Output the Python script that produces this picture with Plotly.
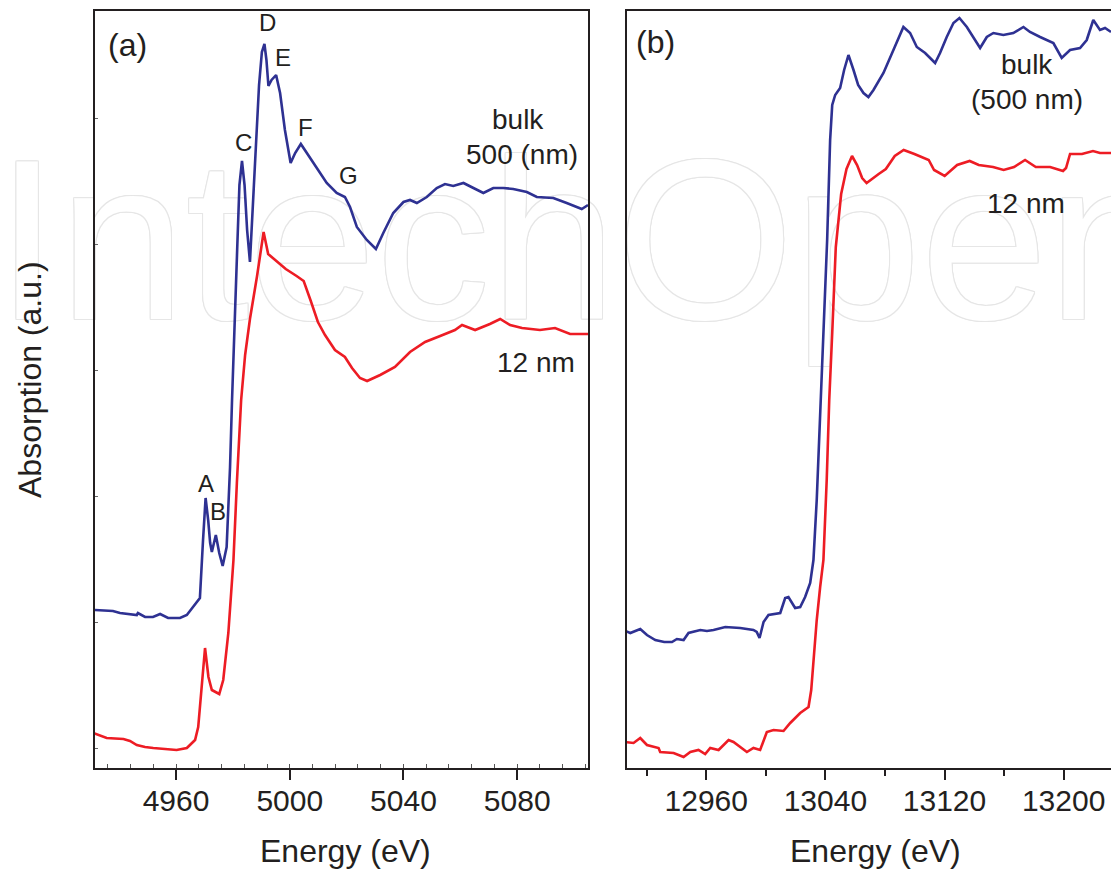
import plotly.graph_objects as go

# ---------------- data ----------------
# Panel (a): Ti K-edge region
energy_a_bulk = [4931.5, 4937.8, 4940.3, 4946.2, 4946.6, 4949.1, 4951.9, 4954.4, 4957.2, 4961.4,
                 4963.8, 4966.0, 4967.3, 4968.4, 4969.5, 4970.4, 4971.3, 4972.0, 4972.6, 4974.0,
                 4975.2, 4976.4, 4977.8, 4979.0, 4979.7, 4980.4, 4981.5, 4982.3, 4983.2, 4984.1,
                 4985.0, 4986.0, 4987.1, 4988.1, 4989.2, 4990.2, 4991.1, 4991.8, 4992.5, 4993.6,
                 4995.2, 4996.6, 4998.3, 5000.3, 5001.9, 5003.9, 5006.0, 5009.5, 5013.0, 5016.5,
                 5019.4, 5021.2, 5023.6, 5027.1, 5030.3, 5032.9, 5036.4, 5040.0, 5042.3, 5044.7,
                 5048.2, 5051.7, 5054.6, 5057.5, 5061.1, 5064.6, 5068.1, 5071.6, 5075.1, 5078.6,
                 5083.4, 5086.9, 5092.7, 5097.4, 5102.7, 5104.9]
abs_a_bulk = [1.58, 1.57, 1.55, 1.53, 1.55, 1.51, 1.51, 1.54, 1.50, 1.50,
              1.53, 1.61, 1.66, 1.70, 2.28, 2.70, 2.48, 2.25, 2.16, 2.33,
              2.15, 2.02, 2.21, 3.01, 3.68, 4.35, 5.18, 5.83, 6.07, 5.83,
              5.38, 5.06, 5.68, 6.28, 6.83, 7.16, 7.24, 7.08, 6.82, 6.88,
              6.93, 6.75, 6.38, 6.05, 6.15, 6.24, 6.15, 6.01, 5.85, 5.75,
              5.71, 5.61, 5.41, 5.28, 5.19, 5.35, 5.55, 5.66, 5.68, 5.65,
              5.71, 5.80, 5.84, 5.82, 5.85, 5.80, 5.75, 5.80, 5.80, 5.79,
              5.76, 5.71, 5.70, 5.65, 5.59, 5.63]

energy_a_12nm = [4930.8, 4935.6, 4941.5, 4943.8, 4946.2, 4949.1, 4952.0, 4956.1, 4960.2, 4963.8,
                 4966.7, 4967.8, 4969.0, 4970.2, 4971.4, 4972.6, 4975.2, 4976.6, 4978.4, 4980.2,
                 4981.4, 4982.9, 4984.3, 4986.0, 4988.5, 4990.8, 4992.4, 4994.8, 4998.6, 5002.4,
                 5004.9, 5007.4, 5009.9, 5012.4, 5015.9, 5019.4, 5021.9, 5024.7, 5027.2, 5031.8,
                 5037.0, 5042.3, 5047.6, 5052.9, 5058.1, 5060.6, 5065.2, 5070.4, 5074.0, 5077.5,
                 5081.7, 5088.0, 5093.3, 5098.6, 5104.9]
abs_a_12nm = [0.35, 0.30, 0.29, 0.27, 0.23, 0.21, 0.20, 0.19, 0.18, 0.20,
              0.28, 0.41, 0.85, 1.20, 0.91, 0.78, 0.74, 0.88, 1.35, 2.08,
              2.85, 3.68, 4.13, 4.49, 4.92, 5.36, 5.14, 5.08, 4.99, 4.92,
              4.87, 4.67, 4.46, 4.33, 4.18, 4.11, 4.00, 3.90, 3.87, 3.93,
              4.01, 4.16, 4.26, 4.32, 4.38, 4.43, 4.38, 4.44, 4.49, 4.43,
              4.40, 4.38, 4.40, 4.34, 4.34]

# Panel (b): Pb L3-edge region
energy_b_bulk = [12905.6, 12909.0, 12915.7, 12920.2, 12925.8, 12931.8, 12937.0, 12940.3, 12944.8, 12948.1,
                 12956.0, 12960.5, 12964.9, 12972.8, 12982.8, 12991.7, 12993.9, 12995.8, 12998.5, 13001.8,
                 13009.7, 13013.0, 13015.2, 13019.7, 13023.1, 13026.4, 13029.8, 13032.0, 13034.2, 13036.5,
                 13038.9, 13041.2, 13043.2, 13044.6, 13046.6, 13049.9, 13052.6, 13055.5, 13058.9, 13062.0,
                 13065.6, 13068.9, 13072.3, 13079.0, 13085.7, 13092.4, 13096.9, 13101.4, 13107.0, 13113.7,
                 13117.0, 13121.5, 13126.0, 13130.0, 13135.0, 13139.4, 13143.9, 13148.4, 13152.8, 13159.5,
                 13166.2, 13173.0, 13177.4, 13184.2, 13193.1, 13198.7, 13204.3, 13211.0, 13215.5, 13219.9,
                 13224.4, 13227.8, 13231.8]
abs_b_bulk = [1.37, 1.35, 1.39, 1.33, 1.28, 1.26, 1.26, 1.29, 1.28, 1.35,
              1.38, 1.37, 1.38, 1.41, 1.40, 1.38, 1.36, 1.30, 1.46, 1.53,
              1.55, 1.70, 1.71, 1.60, 1.61, 1.71, 1.85, 2.08, 2.68, 3.48,
              4.35, 5.28, 6.28, 6.63, 6.73, 6.80, 6.98, 7.13, 6.98, 6.83,
              6.75, 6.71, 6.78, 6.95, 7.18, 7.41, 7.35, 7.21, 7.15, 7.05,
              7.15, 7.31, 7.45, 7.50, 7.41, 7.31, 7.20, 7.31, 7.35, 7.33,
              7.35, 7.41, 7.36, 7.31, 7.25, 7.10, 7.18, 7.20, 7.28, 7.48,
              7.38, 7.40, 7.36]

energy_b_12nm = [12905.6, 12911.2, 12915.7, 12920.2, 12928.0, 12929.1, 12938.1, 12944.8, 12949.3, 12954.8,
                 12959.3, 12962.7, 12968.3, 12975.0, 12978.3, 12987.3, 12991.7, 12996.2, 13000.7, 13005.2,
                 13011.9, 13016.4, 13023.1, 13028.7, 13030.5, 13032.0, 13034.2, 13036.5, 13038.7, 13040.9,
                 13042.6, 13044.6, 13047.0, 13050.6, 13054.2, 13057.9, 13061.3, 13064.7, 13067.7, 13075.8,
                 13080.6, 13086.6, 13092.6, 13099.8, 13109.4, 13113.0, 13120.1, 13128.5, 13136.9, 13143.0,
                 13152.6, 13159.7, 13166.7, 13174.1, 13181.3, 13190.9, 13199.6, 13201.6, 13204.3, 13212.3,
                 13219.7, 13224.4, 13231.8]
abs_b_12nm = [0.26, 0.25, 0.30, 0.23, 0.20, 0.16, 0.15, 0.11, 0.16, 0.18,
              0.14, 0.20, 0.18, 0.28, 0.26, 0.16, 0.20, 0.18, 0.36, 0.38,
              0.37, 0.45, 0.55, 0.61, 0.78, 1.08, 1.48, 1.81, 2.08, 2.88,
              3.68, 4.35, 5.21, 5.74, 5.99, 6.12, 6.03, 5.90, 5.85, 5.94,
              5.99, 6.12, 6.18, 6.14, 6.08, 5.98, 5.92, 6.03, 6.07, 6.03,
              6.01, 5.98, 6.01, 6.08, 6.01, 6.01, 5.97, 6.00, 6.14, 6.14,
              6.17, 6.15, 6.15]

peak_labels = ["A", "B", "C", "D", "E", "F", "G"]
peak_label_energy = [4970.6, 4974.8, 4983.9, 4992.0, 4997.6, 5005.7, 5020.5]
peak_label_abs = [2.85, 2.57, 6.25, 7.45, 7.10, 6.40, 5.92]

tickvals_a = [4960, 5000, 5040, 5080]
tickvals_b = [12960, 13040, 13120, 13200]

# ---------------- style ----------------
BLUE = "#2e3192"
RED = "#ed1c24"
INK = "#231f20"
FONT = "Liberation Sans, Arial, sans-serif"
W, H = 1111, 871

fig = go.Figure()

# faint publisher watermark (bottom layer, full-figure helper axes)
fig.add_trace(go.Scatter(
    x=[585], y=[262], mode="text", text=["IntechOpen"],
    textposition="middle center",
    textfont=dict(family=FONT, size=228, color="white",
                  shadow="1px 0 0 #e6e6e6, -1px 0 0 #e6e6e6, 0 1px 0 #e6e6e6, 0 -1px 0 #e6e6e6, "
                         "1px 1px 0 #e6e6e6, -1px -1px 0 #e6e6e6, 1px -1px 0 #e6e6e6, -1px 1px 0 #e6e6e6"),
    xaxis="x", yaxis="y", hoverinfo="skip", showlegend=False))

fig.add_trace(go.Scatter(x=energy_a_bulk, y=abs_a_bulk, mode="lines", name="bulk (500 nm)",
                         line=dict(color=BLUE, width=2.6), xaxis="x2", yaxis="y2", showlegend=False))
fig.add_trace(go.Scatter(x=energy_a_12nm, y=abs_a_12nm, mode="lines", name="12 nm",
                         line=dict(color=RED, width=2.6), xaxis="x2", yaxis="y2", showlegend=False))
fig.add_trace(go.Scatter(x=energy_b_bulk, y=abs_b_bulk, mode="lines", name="bulk (500 nm)",
                         line=dict(color=BLUE, width=2.6), xaxis="x3", yaxis="y3", showlegend=False))
fig.add_trace(go.Scatter(x=energy_b_12nm, y=abs_b_12nm, mode="lines", name="12 nm",
                         line=dict(color=RED, width=2.6), xaxis="x3", yaxis="y3", showlegend=False))

ydom = [1 - 768 / H, 1 - 11 / H]
tickfont = dict(family=FONT, size=30, color=INK)

fig.update_layout(
    width=W, height=H, autosize=False,
    margin=dict(l=0, r=0, t=0, b=0, pad=0, autoexpand=False),
    paper_bgcolor="white", plot_bgcolor="rgba(0,0,0,0)",
    hovermode=False, showlegend=False,
    xaxis=dict(domain=[0, 1], range=[0, W], visible=False, fixedrange=True),
    yaxis=dict(domain=[0, 1], range=[H, 0], visible=False, fixedrange=True),
    xaxis2=dict(domain=[95 / W, 588 / W], range=[4931.5, 5104.9], anchor="y2",
                showline=True, linecolor=INK, linewidth=1.5, mirror=True,
                ticks="outside", ticklen=10, tickwidth=1.5, tickcolor=INK,
                tickvals=tickvals_a, tickformat="d", tickfont=tickfont, ticklabelstandoff=-5,
                showgrid=False, zeroline=False,
                minor=dict(dtick=8, tick0=4960, ticks="inside", ticklen=4, tickcolor="#555", tickwidth=1)),
    yaxis2=dict(domain=ydom, range=[0, 7.57], anchor="x2",
                showline=True, linecolor=INK, linewidth=1.5, mirror=True,
                ticks="inside", ticklen=3, tickcolor="#666", tick0=0.2, dtick=1.26,
                showticklabels=False, showgrid=False, zeroline=False),
    xaxis3=dict(domain=[627 / W, 1.0], range=[12906.8, 13231.8], anchor="y3",
                showline=True, linecolor=INK, linewidth=1.5, mirror=True,
                ticks="outside", ticklen=10, tickwidth=1.5, tickcolor=INK,
                tickvals=tickvals_b, tickformat="d", tickfont=tickfont, ticklabelstandoff=-5,
                showgrid=False, zeroline=False,
                minor=dict(dtick=40, tick0=12920, ticks="outside", ticklen=6, tickcolor=INK, tickwidth=1.5)),
    yaxis3=dict(domain=ydom, range=[0, 7.57], anchor="x3",
                showline=True, linecolor=INK, linewidth=1.5, mirror=False,
                ticks="", showticklabels=False, showgrid=False, zeroline=False),
)

ann = []
txt = dict(family=FONT, color=INK)
C = dict(xanchor="center", yanchor="middle", showarrow=False)
# axis titles
ann.append(dict(text="Energy (eV)", x=345 / W, y=1 - 851 / H, xref="paper", yref="paper",
                font=dict(size=32, **txt), **C))
ann.append(dict(text="Energy (eV)", x=875 / W, y=1 - 851 / H, xref="paper", yref="paper",
                font=dict(size=32, **txt), **C))
ann.append(dict(text="Absorption (a.u.)", x=30 / W, y=1 - 380 / H, xref="paper", yref="paper",
                textangle=-90, font=dict(size=32, **txt), **C))
# panel letters
ann.append(dict(text="(a)", x=106 / W, y=1 - 45 / H, xref="paper", yref="paper", xanchor="left",
                yanchor="middle", showarrow=False, font=dict(size=32, **txt)))
ann.append(dict(text="(b)", x=634 / W, y=1 - 42 / H, xref="paper", yref="paper", xanchor="left",
                yanchor="middle", showarrow=False, font=dict(size=32, **txt)))
# peak labels
for lab, ex, ay in zip(peak_labels, peak_label_energy, peak_label_abs):
    ann.append(dict(text=lab, x=ex, y=ay, xref="x2", yref="y2", font=dict(size=24, **txt), **C))
# series labels
ann.append(dict(text="bulk", x=5080.3, y=6.48, xref="x2", yref="y2", font=dict(size=28, **txt), **C))
ann.append(dict(text="500 (nm)", x=5081.7, y=6.13, xref="x2", yref="y2", font=dict(size=28, **txt), **C))
ann.append(dict(text="12 nm", x=5086.6, y=4.06, xref="x2", yref="y2", font=dict(size=28, **txt), **C))
ann.append(dict(text="bulk", x=13175.4, y=7.03, xref="x3", yref="y3", font=dict(size=28, **txt), **C))
ann.append(dict(text="(500 nm)", x=13175.4, y=6.68, xref="x3", yref="y3", font=dict(size=28, **txt), **C))
ann.append(dict(text="12 nm", x=13174.8, y=5.64, xref="x3", yref="y3", font=dict(size=28, **txt), **C))
fig.update_layout(annotations=ann)

fig.write_html("out.html", config={"displayModeBar": False},
               post_script="document.body.style.margin='0';")
